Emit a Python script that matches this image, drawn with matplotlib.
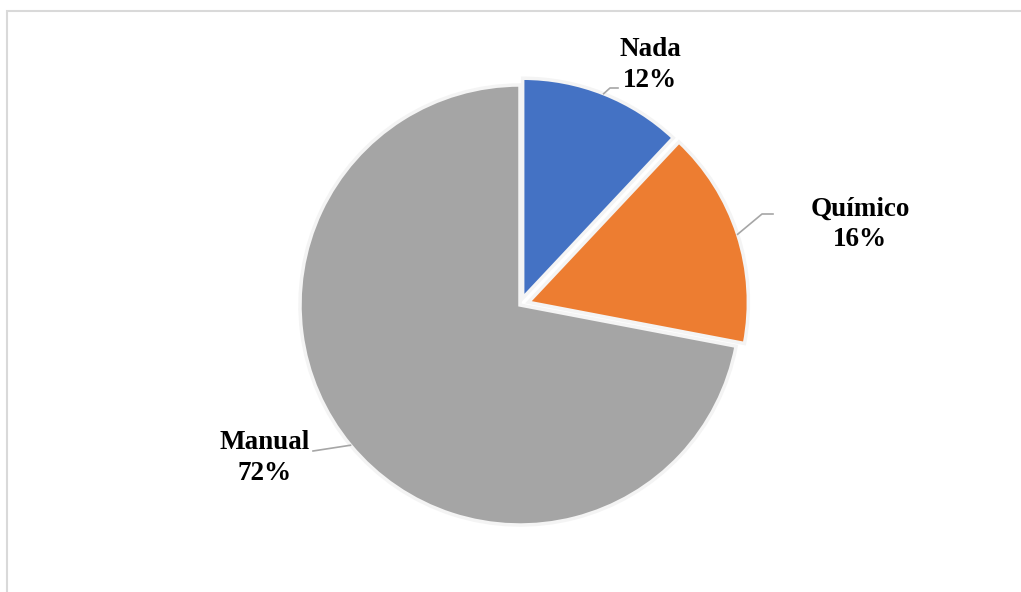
import numpy as np
import matplotlib
matplotlib.use("Agg")
from matplotlib import pyplot as plt

labels = ["Nada", "Químico", "Manual"]
values = [12, 16, 72]
colors = ["#4472C4", "#ED7D31", "#A5A5A5"]
explode = [0.033, 0.04, 0.0]

W, H = 1021, 592
cx, cy, R = 520, H - 305, 220

fig = plt.figure(figsize=(W / 100, H / 100), dpi=100, facecolor="white")
ax = fig.add_axes([0, 0, 1, 1])
ax.set_xlim(0, W)
ax.set_ylim(0, H)
ax.set_aspect("equal")
ax.axis("off")

# chart area border
ax.plot([7, 7, W + 5], [-5, H - 11, H - 11], color="#D9D9D9", lw=1.5,
        solid_joinstyle="miter")

# pie explode offsets are in data units, so scale by radius
wedges, _ = ax.pie(values, colors=colors, startangle=90, counterclock=False,
                   explode=[e * R for e in explode], center=(cx, cy), radius=R,
                   wedgeprops=dict(edgecolor="#F4F4F4", linewidth=2.5))
ax.set_xlim(0, W)
ax.set_ylim(0, H)

# label boxes (image-pixel layout) and leader elbows
text_pos = [(650, 65), (860, 224), (265, 458)]
elbows = [[(610, 88), (618, 88)], [(762, 214), (773, 214)], [(313, 451)]]

total = sum(values)
start = 90.0
for i, (lab, v) in enumerate(zip(labels, values)):
    mid = start - 360.0 * v / total / 2
    start -= 360.0 * v / total
    a = np.deg2rad(mid)
    r = R * (1 + explode[i])
    px, py = cx + r * np.cos(a), cy + r * np.sin(a)
    xs = [px] + [e[0] for e in elbows[i]]
    ys = [py] + [H - e[1] for e in elbows[i]]
    ax.plot(xs, ys, color="#A6A6A6", lw=1.2)
    tx, ty = text_pos[i]
    ax.text(tx, H - ty, f"{lab}\n{v}%", ha="center", va="center",
            fontsize=19.5, fontweight="bold", family="Liberation Serif",
            linespacing=1.28, color="black")

fig.savefig("out.png", dpi=100, facecolor="white")
